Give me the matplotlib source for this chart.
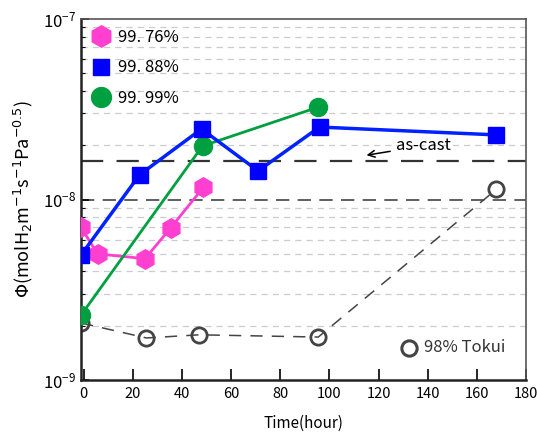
import matplotlib
matplotlib.use("Agg")
import matplotlib.pyplot as plt
from matplotlib.ticker import FixedLocator, NullFormatter, LogLocator

plt.rcParams['font.family'] = ['Noto Sans CJK JP', 'DejaVu Sans']

# 99.76%
t_976 = [-1, 5.7, 25, 35.4, 48.8]
phi_976 = [7.0e-9, 5.0e-9, 4.7e-9, 6.95e-9, 1.17e-8]
# 99.88%
t_988 = [-1, 22.8, 48, 71, 96, 168]
phi_988 = [4.93e-9, 1.37e-8, 2.46e-8, 1.44e-8, 2.52e-8, 2.28e-8]
# 99.99%
t_999 = [-1, 48.4, 95.5]
phi_999 = [2.29e-9, 1.98e-8, 3.25e-8]
# 98% Tokui
t_tok = [-1, 25.6, 47, 95.5, 168]
phi_tok = [2.07e-9, 1.71e-9, 1.78e-9, 1.73e-9, 1.14e-8]
as_cast = 1.63e-8

xticks = [0, 20, 40, 60, 80, 100, 120, 140, 160, 180]

fig = plt.figure(figsize=(5.37, 4.37), dpi=100)
ax = fig.add_axes([0.151, 0.1304, 0.8285, 0.8261])
ax.set_yscale("log")
ax.set_xlim(-1, 180)
ax.set_ylim(1e-9, 1e-7)

# 网格线：次刻度浅灰虚线，1e-8 深色虚线
for dec in (1e-9, 1e-8):
    for k in range(2, 10):
        ax.axhline(k * dec, color="#cccccc", lw=0.9, ls=(0, (5, 4)), zorder=0)
ax.axhline(1e-8, color="#444444", lw=1.2, ls=(0, (8, 5)), zorder=1)
ax.axhline(as_cast, color="#333333", lw=1.6, ls=(0, (10, 6)), zorder=1)

ax.plot(t_tok, phi_tok, color="#444444", lw=1.1, ls=(0, (8, 6)),
        marker="o", ms=11, mfc="none", mec="#444444", mew=2, zorder=2)
ax.plot(t_976, phi_976, color="#ff3fd0", lw=2, marker="h", ms=14,
        mec="#ff3fd0", zorder=3, label="99. 76%")
ax.plot(t_988, phi_988, color="#0022ff", lw=2.5, marker="s", ms=11,
        mfc="#0000ff", mec="#0000ff", zorder=4, label="99. 88%")
ax.plot(t_999, phi_999, color="#00a040", lw=2, marker="o", ms=13,
        mec="#00a040", zorder=3, label="99. 99%")

leg = ax.legend(loc="upper left", frameon=False, fontsize=12, handlelength=1.2,
                borderaxespad=0.3, borderpad=0.3, labelspacing=0.8,
                handletextpad=0.4, markerscale=1.1, bbox_to_anchor=(0.0, 1.0))
# 去掉图例中的连线
for h in leg.legend_handles:
    h.set_linestyle("none")

ax.plot([0.737], [0.09], transform=ax.transAxes, marker="o", ms=11,
        mfc="none", mec="#444444", mew=2.2, clip_on=False)
ax.text(0.77, 0.09, "98% Tokui", transform=ax.transAxes, fontsize=12,
        va="center", ha="left", color="#333333")

ax.annotate("as-cast", xy=(114, 1.75e-8), xytext=(127, 1.98e-8),
            fontsize=12, va="center", ha="left",
            arrowprops=dict(arrowstyle="->", color="black", lw=1.1))

ax.xaxis.set_major_locator(FixedLocator(xticks))
ax.tick_params(axis="x", direction="in", length=8, width=1.2, labelsize=10.5, pad=5)
ax.yaxis.set_major_locator(LogLocator(base=10, numticks=5))
ax.yaxis.set_minor_locator(LogLocator(base=10, subs=range(2, 10), numticks=20))
ax.yaxis.set_minor_formatter(NullFormatter())
ax.tick_params(axis="y", which="major", direction="in", length=6, width=1.2, labelsize=12)
ax.tick_params(axis="y", which="minor", direction="in", length=3, width=0.8)

for s in ("left", "bottom"):
    ax.spines[s].set_linewidth(1.8)
    ax.spines[s].set_color("#222222")
for s in ("top", "right"):
    ax.spines[s].set_linewidth(1.2)
    ax.spines[s].set_color("#555555")

ax.set_xlabel("Time(hour)", fontsize=11, labelpad=10)
ax.set_ylabel(r"$\Phi$(molH$_2$m$^{-1}$s$^{-1}$Pa$^{-0.5}$)", fontsize=13, labelpad=6)

fig.savefig("out.png", dpi=100)
